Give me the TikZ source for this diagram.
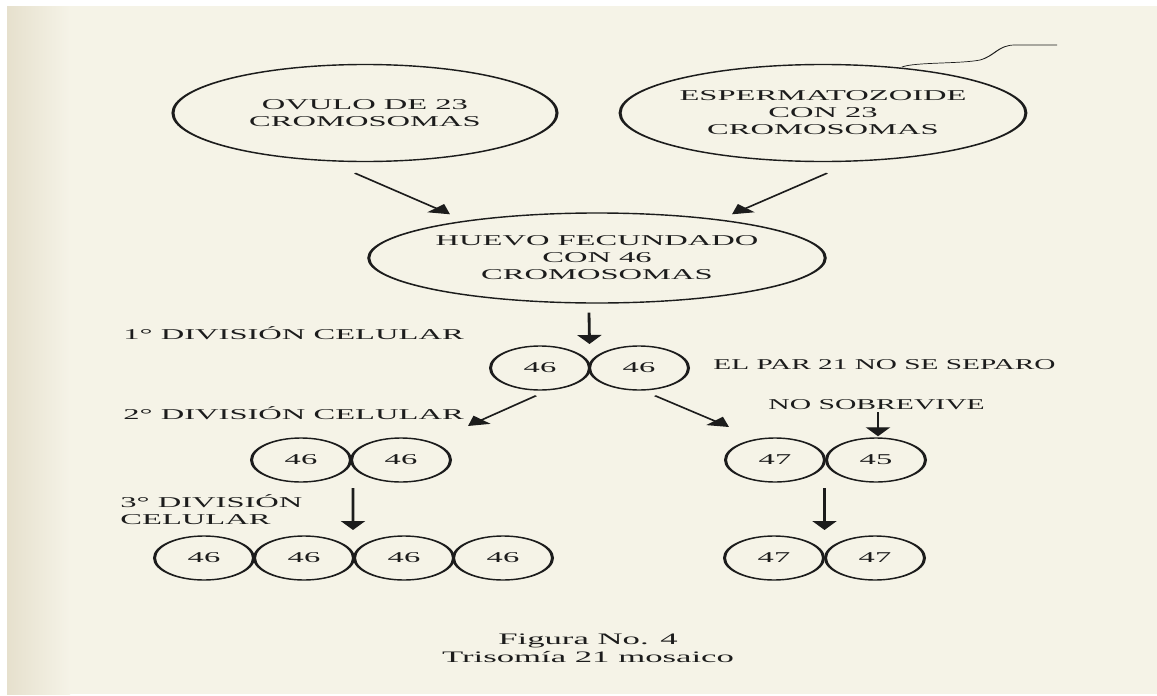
\documentclass[tikz,border=0pt]{standalone}
\usepackage{fontspec}
\setmainfont{Liberation Serif}
\usetikzlibrary{arrows.meta,shapes.geometric,calc}
\definecolor{paper}{HTML}{F5F3E7}
\definecolor{paperedge}{HTML}{E6E0CD}
\definecolor{ink}{HTML}{1C1C1C}
\begin{document}
\begin{tikzpicture}[x=1pt,y=-1pt]
\useasboundingbox (0,0) rectangle (1157,696);
\fill[white] (0,0) rectangle (1157,696);
\fill[paper] (7,6) rectangle (1157,694);
\shade[left color=paperedge,right color=paper] (7,6) rectangle (70,694);
\begin{scope}[transform canvas={xscale=2.17}, x=0.460829pt, y=-1pt,
  txt/.style={text=ink, font=\fontsize{15}{17}\selectfont, inner sep=0pt},
  big/.style={txt, ellipse, draw=ink, line width=1.4pt, align=center},
  cell/.style={txt, ellipse, draw=ink, line width=1.4pt, minimum width=45.6pt, minimum height=44pt},
  lbl/.style={txt, anchor=west, align=left},
  arr/.style={draw=ink, line width=1.3pt, -{Triangle[length=9pt,width=11pt]}}]
  % big ellipses
  \node[big, minimum width=177pt, minimum height=97pt] (ovulo) at (365,113) {OVULO DE 23\\CROMOSOMAS};
  \node[big, minimum width=177pt, minimum height=97pt] (esperm) at (823,113) {ESPERMATOZOIDE\\CON 23\\CROMOSOMAS};
  \node[big, minimum width=175pt, minimum height=90pt] (huevo) at (597,258) {HUEVO FECUNDADO\\CON 46\\CROMOSOMAS};
  % tail of the sperm
  \draw[ink, line width=0.7pt] (902,67) .. controls (915,62) and (960,64) .. (980,60)
        .. controls (995,56) and (998,45) .. (1015,45) -- (1057,45);
  % row 1
  \node[cell] (c1a) at (540,368) {46};
  \node[cell] (c1b) at (639,368) {46};
  % row 2
  \node[cell] (c2a) at (301,460) {46};
  \node[cell] (c2b) at (401,460) {46};
  \node[cell] (c2c) at (775,460) {47};
  \node[cell] (c2d) at (876,460) {45};
  % row 3
  \node[cell] (c3a) at (204,558) {46};
  \node[cell] (c3b) at (304,558) {46};
  \node[cell] (c3c) at (404,558) {46};
  \node[cell] (c3d) at (503,558) {46};
  \node[cell] (c3e) at (774,558) {47};
  \node[cell] (c3f) at (875,558) {47};
  % labels
  \node[lbl] (d1) at (123,333) {1° DIVISIÓN CELULAR};
  \node[lbl] (d2) at (123,413) {2° DIVISIÓN CELULAR};
  \node[lbl] (d3) at (120,510) {3° DIVISIÓN\\CELULAR};
  \node[lbl] (par) at (713,365) {\scalebox{0.9}[1]{EL PAR 21 NO SE SEPARO}};
  \node[lbl] (nosob) at (768,405) {\scalebox{0.91}[1]{NO SOBREVIVE}};
  % caption
  \node[txt, font=\fontsize{16}{18}\selectfont, align=center] (cap) at (588,648) {Figura No. 4\\Trisomía 21 mosaico};
  % arrows
  \draw[arr] ($(ovulo.south)+(-10,11)$) -- ($(huevo.north)+(-147,2)$);
  \draw[arr] ($(esperm.south)+(4,11)$) -- ($(huevo.north)+(135,2)$);
  \draw[arr] ($(huevo.south)+(-8,9)$) -- ($($(c1a)!0.5!(c1b)$)+(0,-24)$);
  \draw[arr] ($(c1a.south)+(-4,5)$) -- ($(c2b)+(67,-34)$);
  \draw[arr] ($(c1b.south)+(16,5)$) -- ($(c2c)+(-46,-33)$);
  \draw[arr] ($($(c2a)!0.5!(c2b)$)+(2,28)$) -- ($($(c3b)!0.5!(c3c)$)+(-1,-28)$);
  \draw[arr] ($(nosob.south -| c2d)+(2,2)$) -- ($(c2d.north)+(2,-1)$);
  \draw[arr] ($($(c2c)!0.5!(c2d)$)+(-1,28)$) -- ($($(c3e)!0.5!(c3f)$)+(0,-28)$);
\end{scope}
\end{tikzpicture}
\end{document}
